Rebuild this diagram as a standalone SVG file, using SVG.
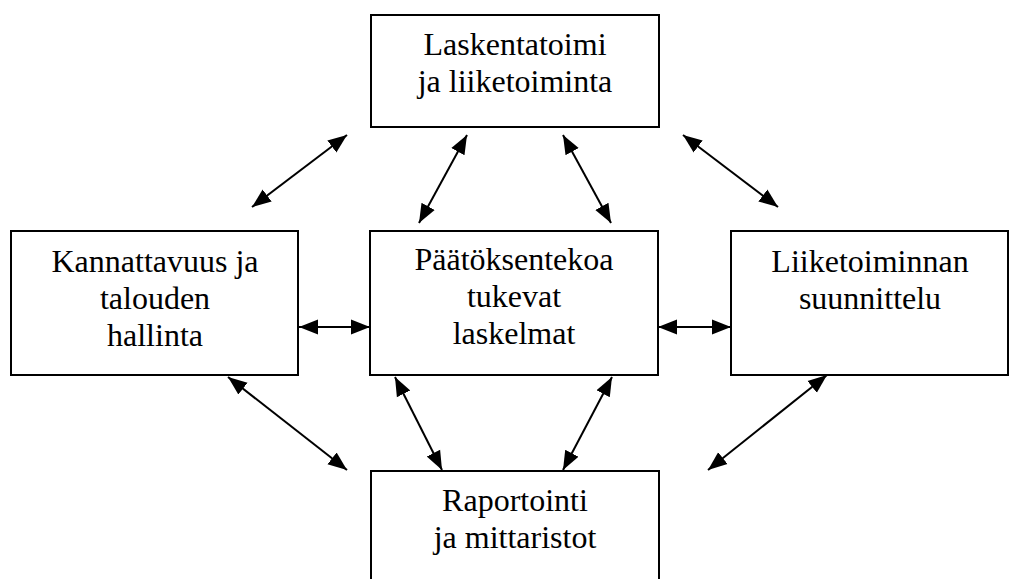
<svg xmlns="http://www.w3.org/2000/svg" width="1010" height="579" viewBox="0 0 1010 579">
  <style>
    .box { fill: #ffffff; stroke: #000000; stroke-width: 2; }
    .lbl { font-size: 32px; fill: #000000; text-anchor: middle; }
    .conn { stroke: #000000; stroke-width: 2; fill: none; marker-start: url(#ah); marker-end: url(#ah); }
  </style>
  <defs>
    <marker id="ah" markerUnits="userSpaceOnUse" markerWidth="20" markerHeight="18" viewBox="0 0 20 18" refX="19" refY="9" orient="auto-start-reverse">
      <path d="M0,1.5 L19,9 L0,16.5 Z" fill="#000000"/>
    </marker>
  </defs>
  <rect width="1010" height="579" fill="#ffffff"/>

  <g id="node-laskentatoimi" font-family="Liberation Serif, Times New Roman, serif">
    <rect class="box" x="371" y="15" width="288" height="112"/>
    <text class="lbl" x="515" y="55">Laskentatoimi</text>
    <text class="lbl" x="515" y="92">ja liiketoiminta</text>
  </g>

  <g id="node-kannattavuus" font-family="Liberation Serif, Times New Roman, serif">
    <rect class="box" x="11" y="231" width="287" height="144"/>
    <text class="lbl" x="155" y="272">Kannattavuus ja</text>
    <text class="lbl" x="155" y="309">talouden</text>
    <text class="lbl" x="155" y="346">hallinta</text>
  </g>

  <g id="node-paatoksenteko" font-family="Liberation Serif, Times New Roman, serif">
    <rect class="box" x="370" y="231" width="288" height="144"/>
    <text class="lbl" x="514" y="270">Päätöksentekoa</text>
    <text class="lbl" x="514" y="307">tukevat</text>
    <text class="lbl" x="514" y="344">laskelmat</text>
  </g>

  <g id="node-suunnittelu" font-family="Liberation Serif, Times New Roman, serif">
    <rect class="box" x="731" y="231" width="277" height="144"/>
    <text class="lbl" x="870" y="272">Liiketoiminnan</text>
    <text class="lbl" x="870" y="309">suunnittelu</text>
  </g>

  <g id="node-raportointi" font-family="Liberation Serif, Times New Roman, serif">
    <rect class="box" x="371" y="471" width="288" height="120"/>
    <text class="lbl" x="515" y="511">Raportointi</text>
    <text class="lbl" x="515" y="548">ja mittaristot</text>
  </g>

  <g id="connectors">
    <line class="conn" x1="252" y1="207" x2="347" y2="135"/>
    <line class="conn" x1="419" y1="223" x2="467" y2="135"/>
    <line class="conn" x1="611" y1="223" x2="563" y2="135"/>
    <line class="conn" x1="778" y1="207" x2="683" y2="135"/>
    <line class="conn" x1="299" y1="327" x2="370" y2="327"/>
    <line class="conn" x1="658" y1="327" x2="731" y2="327"/>
    <line class="conn" x1="228" y1="377" x2="347" y2="470"/>
    <line class="conn" x1="395" y1="377" x2="442" y2="470"/>
    <line class="conn" x1="612" y1="377" x2="563" y2="470"/>
    <line class="conn" x1="827" y1="375" x2="708" y2="470"/>
  </g>
</svg>
